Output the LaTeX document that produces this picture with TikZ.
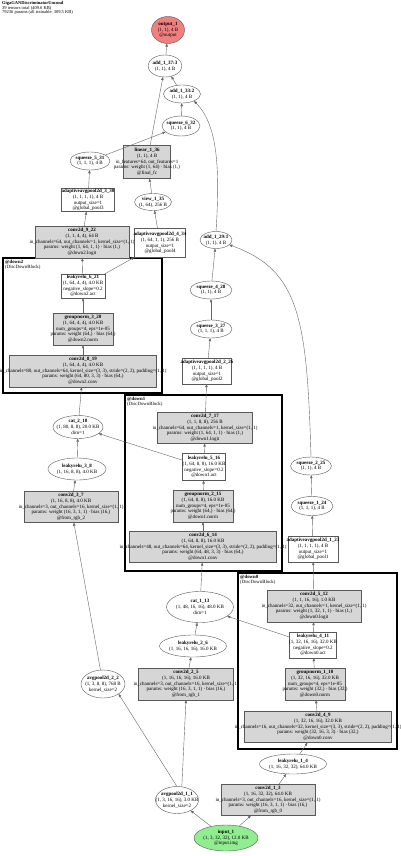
\documentclass[tikz,border=0pt]{standalone}
\usepackage{fontspec}
\setmainfont{Liberation Serif}
\usetikzlibrary{shapes.geometric,arrows.meta}
\definecolor{salmon}{HTML}{F08080}
\definecolor{lgreen}{HTML}{90EE90}
\definecolor{gfill}{HTML}{D6D6D6}
\tikzset{
  nd/.style={draw=black!65, line width=0.4pt, inner sep=0pt, outer sep=0pt},
  ell/.style={nd, ellipse, fill=white},
  outn/.style={nd, ellipse, fill=salmon},
  inn/.style={nd, ellipse, fill=lgreen},
  gbox/.style={nd, rectangle, fill=gfill},
  wbox/.style={nd, rectangle, fill=white},
  lbl/.style={font=\fontsize{5}{5.7}\selectfont, align=center, inner sep=0pt},
  clbl/.style={font=\fontsize{4.8}{5.2}\selectfont, align=left, inner sep=0pt, anchor=north west},
  edge/.style={draw=black!60, line width=0.4pt, -{Triangle[length=3.2pt,width=2.4pt]}},
  clus/.style={draw=black, line width=1.5pt},
}
\newcommand{\nn}[7]{\node[#6, minimum width=#4pt, minimum height=#5pt] (#1) at (#2,#3) {};\node[lbl] (#1-t) at (#1.center) {#7};}
\begin{document}
\begin{tikzpicture}[x=1pt,y=-1pt]
\useasboundingbox[fill=white] (0,0) rectangle (400,856);
\node[anchor=north west, align=left, font=\fontsize{4.5}{4.4}\selectfont, inner sep=0pt] (title) at (2,1.5)
  {\textbf{GigaGANDiscriminatorUncond}\\39 tensors total (409.6 KB)\\79236 params (all trainable, 309.5 KB)};
% clusters
\draw[clus] (3,258) rectangle (162,393);
\node[clbl] (d2l) at (5,260) {\textbf{@down2}\\(DiscDownBlock)};
\draw[clus] (125,395) rectangle (282,571);
\node[clbl] (d1l) at (127,397) {\textbf{@down1}\\(DiscDownBlock)};
\draw[clus] (238,573) rectangle (397,749);
\node[clbl] (d0l) at (240,575) {\textbf{@down0}\\(DiscDownBlock)};
% nodes
\nn{out}{168}{30}{33}{27}{outn}{\textbf{output\_1}\\(1, 1), 4 B\\@output}
\nn{a37}{165}{66}{34}{22}{ell}{\textbf{add\_1\_37:3}\\(1, 1), 4 B}
\nn{a33}{182}{94}{37}{18}{ell}{\textbf{add\_1\_33:2}\\(1, 1), 4 B}
\nn{sq6}{181}{126}{38}{20}{ell}{\textbf{squeeze\_6\_32}\\(1, 1), 4 B}
\nn{sq5}{90}{161}{40}{18}{ell}{\textbf{squeeze\_5\_31}\\(1, 1, 1), 4 B}
\nn{lin}{147}{162}{47}{33}{gbox}{\textbf{linear\_1\_36}\\(1, 1), 4 B\\in\_features=64, out\_features=1\\params: weight (1, 64) · bias (1,)\\@final\_fc}
\nn{aap3}{88}{200}{53}{23}{wbox}{\textbf{adaptiveavgpool2d\_3\_30}\\(1, 1, 1, 1), 4 B\\output\_size=1\\@global\_pool3}
\nn{view}{153}{202}{37}{17}{ell}{\textbf{view\_1\_35}\\(1, 64), 256 B}
\nn{c9}{82}{242}{94}{32}{gbox}{\textbf{conv2d\_9\_22}\\(1, 1, 4, 4), 64 B\\in\_channels=64, out\_channels=1, kernel\_size=(1, 1)\\params: weight (1, 64, 1, 1) · bias (1,)\\@down2.logit}
\nn{aap4}{160}{243}{51}{29}{wbox}{\textbf{adaptiveavgpool2d\_4\_34}\\(1, 64, 1, 1), 256 B\\output\_size=1\\@global\_pool4}
\nn{a29}{216}{240}{32}{17}{ell}{\textbf{add\_1\_29:1}\\(1, 1), 4 B}
\nn{lr6}{83}{286}{44}{24}{wbox}{\textbf{leakyrelu\_6\_21}\\(1, 64, 4, 4), 4.0 KB\\negative\_slope=0.2\\@down2.act}
\nn{gn3}{83}{329}{60}{32}{gbox}{\textbf{groupnorm\_3\_20}\\(1, 64, 4, 4), 4.0 KB\\num\_groups=4, eps=1e-05\\params: weight (64,) · bias (64,)\\@down2.norm}
\nn{c8}{83}{371}{147}{32}{gbox}{\textbf{conv2d\_8\_19}\\(1, 64, 4, 4), 4.0 KB\\in\_channels=80, out\_channels=64, kernel\_size=(3, 3), stride=(2, 2), padding=(1, 1)\\params: weight (64, 80, 3, 3) · bias (64,)\\@down2.conv}
\nn{sq4}{211}{290}{42}{18}{ell}{\textbf{squeeze\_4\_28}\\(1, 1), 4 B}
\nn{sq3}{211}{329}{42}{18}{ell}{\textbf{squeeze\_3\_27}\\(1, 1, 1), 4 B}
\nn{aap2}{207}{371}{49}{26}{wbox}{\textbf{adaptiveavgpool2d\_2\_26}\\(1, 1, 1, 1), 4 B\\output\_size=1\\@global\_pool2}
\nn{c7}{205}{428}{95}{31}{gbox}{\textbf{conv2d\_7\_17}\\(1, 1, 8, 8), 256 B\\in\_channels=64, out\_channels=1, kernel\_size=(1, 1)\\params: weight (1, 64, 1, 1) · bias (1,)\\@down1.logit}
\nn{lr5}{204}{467}{43}{27}{wbox}{\textbf{leakyrelu\_5\_16}\\(1, 64, 8, 8), 16.0 KB\\negative\_slope=0.2\\@down1.act}
\nn{gn2}{203}{506}{60}{32}{gbox}{\textbf{groupnorm\_2\_15}\\(1, 64, 8, 8), 16.0 KB\\num\_groups=4, eps=1e-05\\params: weight (64,) · bias (64,)\\@down1.norm}
\nn{c6}{203}{547}{147}{31}{gbox}{\textbf{conv2d\_6\_14}\\(1, 64, 8, 8), 16.0 KB\\in\_channels=48, out\_channels=64, kernel\_size=(3, 3), stride=(2, 2), padding=(1, 1)\\params: weight (64, 48, 3, 3) · bias (64,)\\@down1.conv}
\nn{cat2}{78}{427}{50}{23}{ell}{\textbf{cat\_2\_18}\\(1, 80, 8, 8), 20.0 KB\\dim=1}
\nn{lr3}{77}{469}{58}{22}{ell}{\textbf{leakyrelu\_3\_8}\\(1, 16, 8, 8), 4.0 KB}
\nn{c3}{71}{507}{94}{31}{gbox}{\textbf{conv2d\_3\_7}\\(1, 16, 8, 8), 4.0 KB\\in\_channels=3, out\_channels=16, kernel\_size=(1, 1)\\params: weight (16, 3, 1, 1) · bias (16,)\\@from\_rgb\_2}
\nn{sq2}{311}{466}{41}{18}{ell}{\textbf{squeeze\_2\_25}\\(1, 1), 4 B}
\nn{sq1}{312}{506}{42}{19}{ell}{\textbf{squeeze\_1\_24}\\(1, 1, 1), 4 B}
\nn{aap1}{313}{549}{50}{26}{wbox}{\textbf{adaptiveavgpool2d\_1\_23}\\(1, 1, 1, 1), 4 B\\output\_size=1\\@global\_pool1}
\nn{c5}{314}{606}{94}{32}{gbox}{\textbf{conv2d\_5\_12}\\(1, 1, 16, 16), 1.0 KB\\in\_channels=32, out\_channels=1, kernel\_size=(1, 1)\\params: weight (1, 32, 1, 1) · bias (1,)\\@down0.logit}
\nn{lr4}{313}{645}{47}{26}{wbox}{\textbf{leakyrelu\_4\_11}\\(1, 32, 16, 16), 32.0 KB\\negative\_slope=0.2\\@down0.act}
\nn{gn1}{315}{684}{60}{32}{gbox}{\textbf{groupnorm\_1\_10}\\(1, 32, 16, 16), 32.0 KB\\num\_groups=4, eps=1e-05\\params: weight (32,) · bias (32,)\\@down0.norm}
\nn{c4}{318}{727}{147}{31}{gbox}{\textbf{conv2d\_4\_9}\\(1, 32, 16, 16), 32.0 KB\\in\_channels=16, out\_channels=32, kernel\_size=(3, 3), stride=(2, 2), padding=(1, 1)\\params: weight (32, 16, 3, 3) · bias (32,)\\@down0.conv}
\nn{cat1}{200}{607}{67}{31}{ell}{\textbf{cat\_1\_13}\\(1, 48, 16, 16), 48.0 KB\\dim=1}
\nn{lr2}{193}{646}{67}{22}{ell}{\textbf{leakyrelu\_2\_6}\\(1, 16, 16, 16), 16.0 KB}
\nn{c2}{186}{684}{95}{32}{gbox}{\textbf{conv2d\_2\_5}\\(1, 16, 16, 16), 16.0 KB\\in\_channels=3, out\_channels=16, kernel\_size=(1, 1)\\params: weight (16, 3, 1, 1) · bias (16,)\\@from\_rgb\_1}
\nn{ap2}{103}{684}{44}{28}{ell}{\textbf{avgpool2d\_2\_2}\\(1, 3, 8, 8), 768 B\\kernel\_size=2}
\nn{ap1}{177}{800}{43}{27}{ell}{\textbf{avgpool2d\_1\_1}\\(1, 3, 16, 16), 3.0 KB\\kernel\_size=2}
\nn{c1}{268}{800}{94}{31}{gbox}{\textbf{conv2d\_1\_3}\\(1, 16, 32, 32), 64.0 KB\\in\_channels=3, out\_channels=16, kernel\_size=(1, 1)\\params: weight (16, 3, 1, 1) · bias (16,)\\@from\_rgb\_0}
\nn{lr1}{293}{764}{67}{20}{ell}{\textbf{leakyrelu\_1\_4}\\(1, 16, 32, 32), 64.0 KB}
\nn{inp}{226}{838}{64}{26}{inn}{\textbf{input\_1}\\(1, 3, 32, 32), 12.0 KB\\@input.img}
% edges
\draw[edge] (a37) -- (out);
\draw[edge] (a33) -- (a37);
\draw[edge] (lin) -- (a37);
\draw[edge] (sq6) -- (a33);
\draw[edge] (a29.north) .. controls (220,170) and (218,125) .. (a33.-30);
\draw[edge] (sq5) -- (sq6);
\draw[edge] (aap3) -- (sq5);
\draw[edge] (c9) -- (aap3);
\draw[edge] (view) -- (lin);
\draw[edge] (aap4) -- (view);
\draw[edge] (lr6) -- (aap4);
\draw[edge] (lr6) -- (c9);
\draw[edge] (gn3) -- (lr6);
\draw[edge] (c8) -- (gn3);
\draw[edge] (cat2) -- (c8);
\draw[edge] (lr3) -- (cat2);
\draw[edge] (lr5) -- (cat2);
\draw[edge] (c3) -- (lr3);
\draw[edge] (ap2) -- (c3);
\draw[edge] (ap1.north) -- (ap2.south east);
\draw[edge] (inp) -- (ap1);
\draw[edge] (ap1.70) -- (c2.south);
\draw[edge] (c2) -- (lr2);
\draw[edge] (lr2) -- (cat1);
\draw[edge] (lr4) -- (cat1);
\draw[edge] (cat1) -- (c6);
\draw[edge] (c6) -- (gn2);
\draw[edge] (gn2) -- (lr5);
\draw[edge] (lr5) -- (c7);
\draw[edge] (c7) -- (aap2);
\draw[edge] (aap2) -- (sq3);
\draw[edge] (sq3) -- (sq4);
\draw[edge] (sq4) -- (a29);
\draw[edge] (sq2.north) .. controls (307,320) and (300,270) .. (a29.-20);
\draw[edge] (sq1) -- (sq2);
\draw[edge] (aap1) -- (sq1);
\draw[edge] (c5) -- (aap1);
\draw[edge] (lr4) -- (c5);
\draw[edge] (gn1) -- (lr4);
\draw[edge] (c4) -- (gn1);
\draw[edge] (lr1) -- (c4);
\draw[edge] (c1) -- (lr1);
\draw[edge] (inp) -- (c1);
\end{tikzpicture}
\end{document}
